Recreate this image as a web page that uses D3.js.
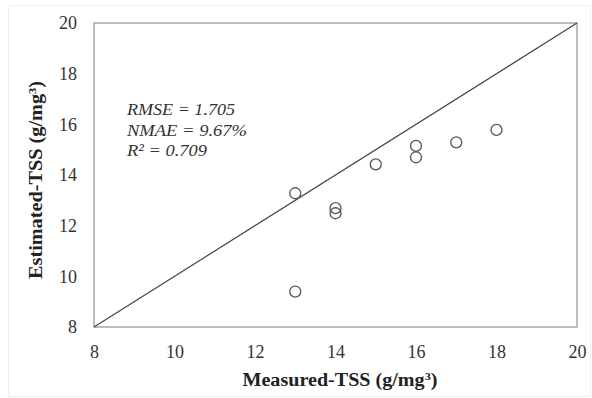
<!DOCTYPE html>
<html><head><meta charset="utf-8">
<script src="https://cdn.jsdelivr.net/npm/d3@7"></script>
<style>body{margin:0;background:#fff;}svg{display:block;}</style>
</head><body>
<svg id="c" width="592" height="398"></svg>
<script>
const measured = [13, 13, 14, 14, 15, 16, 16, 17, 18];
const estimated = [9.4, 13.28, 12.69, 12.49, 14.42, 15.15, 14.7, 15.29, 15.78];
const xTicks = [8, 10, 12, 14, 16, 18, 20];
const yTicks = [8, 10, 12, 14, 16, 18, 20];
const statsLines = ["RMSE = 1.705", "NMAE = 9.67%", "R² = 0.709"];

const svg = d3.select("#c");
const L = 94, R = 577, T = 23, B = 327;
const x = d3.scaleLinear().domain([8, 20]).range([L, R]);
const y = d3.scaleLinear().domain([8, 20]).range([B, T]);

svg.append("rect").attr("x", 8.5).attr("y", 5.5).attr("width", 582).attr("height", 391)
  .attr("fill", "none").attr("stroke", "#f0f0f0");

svg.append("rect").attr("x", L).attr("y", T).attr("width", R - L).attr("height", B - T)
  .attr("fill", "none").attr("stroke", "#a6a6a6").attr("stroke-width", 1.5);

const xAxis = d3.axisBottom(x).tickValues(xTicks).tickSize(0).tickPadding(18);
const gx = svg.append("g").attr("transform", `translate(0,${B})`).call(xAxis);
gx.select(".domain").remove();
gx.selectAll("text").attr("font-family", "Liberation Serif, Times New Roman, serif")
  .attr("font-size", 18).attr("fill", "#333");

const yAxis = d3.axisLeft(y).tickValues(yTicks).tickSize(0).tickPadding(17);
const gy = svg.append("g").attr("transform", `translate(${L},0)`).call(yAxis);
gy.select(".domain").remove();
gy.selectAll("text").attr("font-family", "Liberation Serif, Times New Roman, serif")
  .attr("font-size", 18).attr("fill", "#333");

// 1:1 line
svg.append("line").attr("x1", x(8)).attr("y1", y(8)).attr("x2", x(20)).attr("y2", y(20))
  .attr("stroke", "#444").attr("stroke-width", 1.2);

svg.append("g").selectAll("circle").data(measured).join("circle")
  .attr("cx", (d) => x(d)).attr("cy", (d, i) => y(estimated[i])).attr("r", 5.5)
  .attr("fill", "none").attr("stroke", "#555").attr("stroke-width", 1.3);

const st = svg.append("g").attr("font-family", "Liberation Serif, Times New Roman, serif")
  .attr("font-style", "italic").attr("font-size", 17).attr("fill", "#333");
const lens = [108, 120, 80];
const baselines = [115, 136, 156];
statsLines.forEach((s, i) => {
  st.append("text").attr("x", 127).attr("y", baselines[i]).text(s)
    .attr("textLength", lens[i]).attr("lengthAdjust", "spacingAndGlyphs");
});

const xt = svg.append("text").attr("x", 340).attr("y", 386).attr("text-anchor", "middle")
  .attr("font-family", "Liberation Serif, Times New Roman, serif").attr("font-weight", "bold")
  .attr("font-size", 18).attr("fill", "#222")
  .attr("textLength", 195).attr("lengthAdjust", "spacingAndGlyphs");
xt.append("tspan").text("Measured-TSS (g/mg");
xt.append("tspan").attr("baseline-shift", "super").attr("font-size", 11).text("3");
xt.append("tspan").text(")");

const yt = svg.append("text").attr("transform", "translate(42,180) rotate(-90)").attr("text-anchor", "middle")
  .attr("font-family", "Liberation Serif, Times New Roman, serif").attr("font-weight", "bold")
  .attr("font-size", 18).attr("fill", "#222")
  .attr("textLength", 198).attr("lengthAdjust", "spacingAndGlyphs");
yt.append("tspan").text("Estimated-TSS (g/mg");
yt.append("tspan").attr("baseline-shift", "super").attr("font-size", 11).text("3");
yt.append("tspan").text(")");
</script>
</body></html>
